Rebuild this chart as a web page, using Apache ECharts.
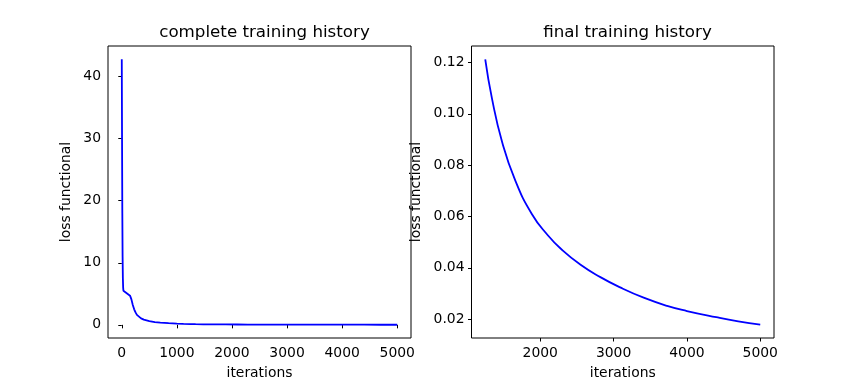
<!DOCTYPE html>
<html>
<head>
<meta charset="utf-8">
<script src="https://cdn.jsdelivr.net/npm/echarts@6/dist/echarts.min.js"></script>
<style>
  html, body { margin: 0; padding: 0; background: #fff; }
  #chart { width: 860px; height: 380px; }
</style>
</head>
<body>
<div id="chart"></div>
<script>
// early part of training (only in the complete history)
var earlyIters = [0, 5, 10, 15, 20, 25, 30, 40, 60, 90, 120, 150, 175, 200, 225, 250, 275, 300, 350, 400, 500, 600, 700, 850, 1000, 1120];
var earlyLoss = [42.8, 30, 18, 11, 7.5, 6.0, 5.5, 5.3, 5.2, 5.1, 4.95, 4.7, 4.1, 3.2, 2.5, 2.0, 1.6, 1.35, 1.05, 0.85, 0.6, 0.45, 0.36, 0.27, 0.2, 0.15];

// final part of training (both panels)
var finalIters = [1250, 1340, 1480, 1660, 1885, 2100, 2290, 2550, 2820, 3090, 3410, 3730, 4000, 4400, 4700, 5000];
var finalLoss = [0.1212, 0.1062, 0.0890, 0.0740, 0.0610, 0.0528, 0.0472, 0.0412, 0.0364, 0.0324, 0.0284, 0.0252, 0.0232, 0.0208, 0.0192, 0.0179];

var leftXTicks = [0, 1000, 2000, 3000, 4000, 5000];
var leftYTicks = [0, 10, 20, 30, 40];
var rightXTicks = [2000, 3000, 4000, 5000];
var rightYTicks = [0.02, 0.04, 0.06, 0.08, 0.10, 0.12];

var completeIters = earlyIters.concat(finalIters);
var completeLoss = earlyLoss.concat(finalLoss);

function pairs(xs, ys) {
    return xs.map(function (x, i) { return [x, ys[i]]; });
}

var font = 'DejaVu Sans';
var labelStyle = { color: '#000', fontSize: 13.9, fontFamily: font };

function xAxisFor(idx, min, max, ticks) {
    return {
        gridIndex: idx,
        type: 'value',
        min: min,
        max: max,
        name: 'iterations',
        nameLocation: 'middle',
        nameGap: 28,
        nameTextStyle: labelStyle,
        axisLine: { show: false },
        splitLine: { show: false },
        axisTick: { show: true, length: 3.5, customValues: ticks, lineStyle: { color: '#000', width: 1 } },
        axisLabel: Object.assign({
            margin: 8, customValues: ticks, hideOverlap: false,
            formatter: function (v) { return String(v); }
        }, labelStyle)
    };
}

function yAxisFor(idx, min, max, ticks, gap, fmt) {
    return {
        gridIndex: idx,
        type: 'value',
        min: min,
        max: max,
        name: 'loss functional',
        nameLocation: 'middle',
        nameRotate: 90,
        nameGap: gap,
        nameTextStyle: labelStyle,
        axisLine: { show: false },
        splitLine: { show: false },
        axisTick: { show: true, length: 3.5, customValues: ticks, lineStyle: { color: '#000', width: 1 } },
        axisLabel: Object.assign({ margin: 7, customValues: ticks, formatter: fmt }, labelStyle)
    };
}

var myChart = echarts.init(document.getElementById('chart'));
var option = {
    animation: false,
    backgroundColor: '#fff',
    title: [{
        text: 'complete training history',
        left: 259.5, top: 19, textAlign: 'center',
        textStyle: { color: '#000', fontSize: 16.7, fontWeight: 'normal', fontFamily: font }
    }, {
        text: 'final training history',
        left: 622.5, top: 19, textAlign: 'center',
        textStyle: { color: '#000', fontSize: 16.7, fontWeight: 'normal', fontFamily: font }
    }],
    grid: [
        { left: 108, right: 449, top: 46, bottom: 42, outerBoundsMode: 'none', show: true, borderColor: '#000', borderWidth: 1, backgroundColor: 'transparent' },
        { left: 471.5, right: 86, top: 46, bottom: 42, outerBoundsMode: 'none', show: true, borderColor: '#000', borderWidth: 1, backgroundColor: 'transparent' }
    ],
    xAxis: [
        xAxisFor(0, -250, 5250, leftXTicks),
        xAxisFor(1, 1062.5, 5187.5, rightXTicks)
    ],
    yAxis: [
        yAxisFor(0, -2.12, 44.94, leftYTicks, 35, function (v) { return String(v); }),
        yAxisFor(1, 0.0127, 0.1264, rightYTicks, 48, function (v) { return v.toFixed(2); })
    ],
    series: [{
        type: 'line',
        xAxisIndex: 0,
        yAxisIndex: 0,
        data: pairs(completeIters, completeLoss),
        showSymbol: false,
        smooth: false,
        lineStyle: { color: '#0000ff', width: 1.8 }
    }, {
        type: 'line',
        xAxisIndex: 1,
        yAxisIndex: 1,
        data: pairs(finalIters, finalLoss),
        showSymbol: false,
        smooth: 0.5,
        lineStyle: { color: '#0000ff', width: 1.8 }
    }]
};
myChart.setOption(option);
</script>
</body>
</html>
